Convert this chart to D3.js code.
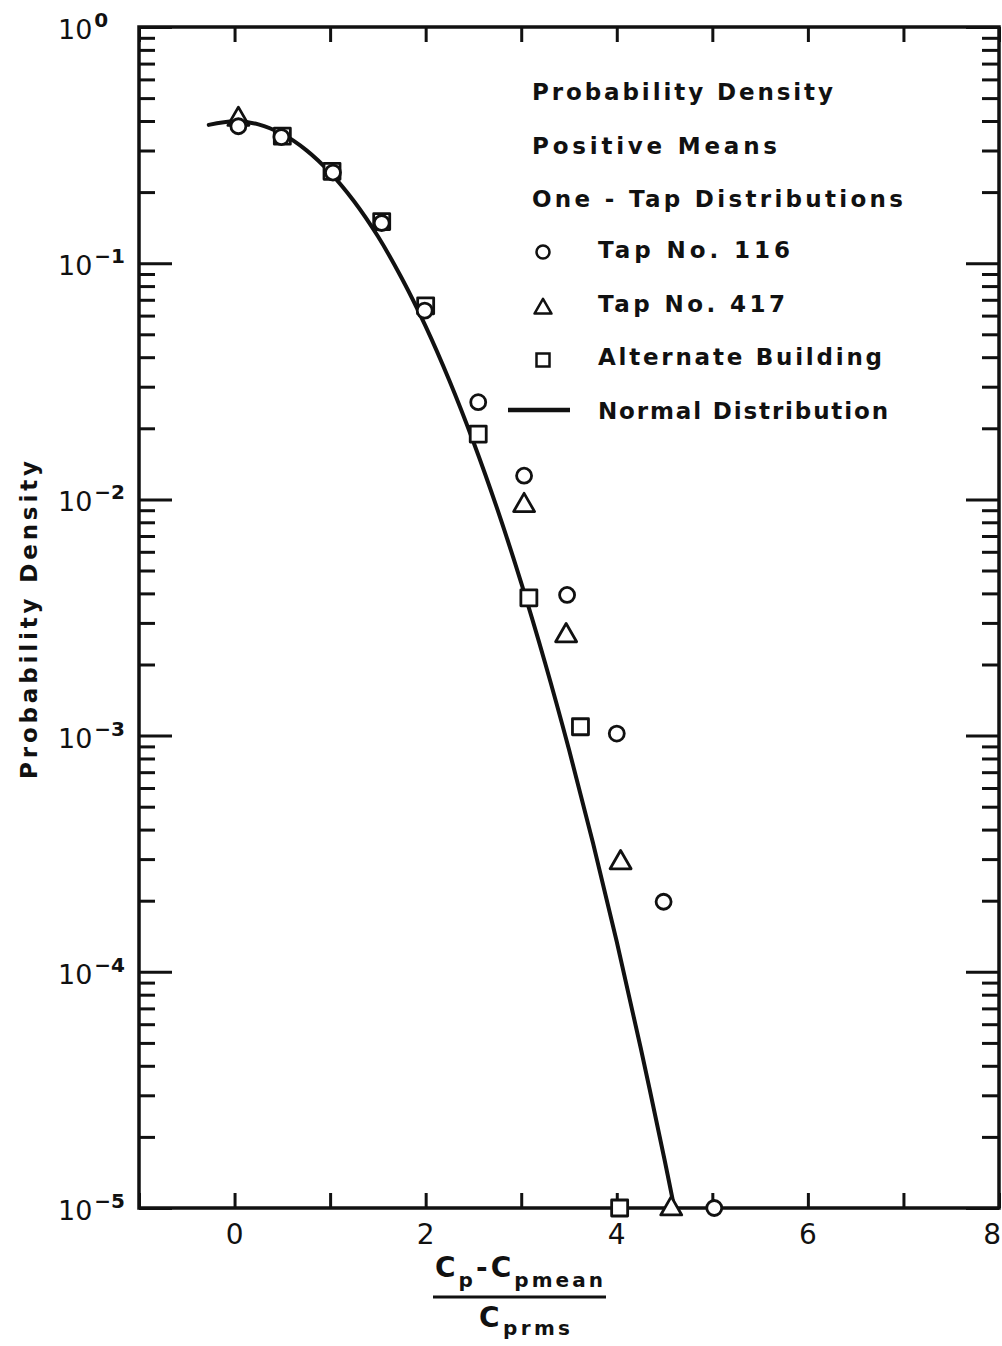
<!DOCTYPE html>
<html>
<head>
<meta charset="utf-8">
<script src="https://cdn.jsdelivr.net/npm/d3@7"></script>
<style>
  html, body { margin: 0; padding: 0; background: #fff; }
  svg { display: block; }
  text { font-family: "DejaVu Sans", "Open Sans", sans-serif; fill: #111; }
  .lbl { font-weight: bold; }
</style>
</head>
<body>
<svg id="chart" width="1002" height="1346"></svg>
<script>
// ---- data ----
const xTickValues = [-1, 0, 1, 2, 3, 4, 5, 6, 7, 8];
const xLabelValues = [0, 2, 4, 6, 8];
const xLabelText = ["0", "2", "4", "6", "8"];
const yDecadeExponents = [0, -1, -2, -3, -4, -5];
const yDecadeLabels = ["0", "-1", "-2", "-3", "-4", "-5"];

// Tap No. 116 (circles)
const tap116X = [0.04, 0.49, 1.03, 1.54, 1.99, 2.55, 3.03, 3.48, 4.00, 4.49, 5.02];
const tap116Y = [0.38, 0.342, 0.242, 0.148, 0.063, 0.0258, 0.0126, 0.00394, 0.00102, 0.000198, 0.00001];
// Tap No. 417 (triangles)
const tap417X = [0.04, 3.03, 3.47, 4.04, 4.57];
const tap417Y = [0.41, 0.0095, 0.00267, 0.000292, 0.00001];
// Alternate Building (squares)
const altX = [0.50, 1.02, 1.54, 2.00, 2.55, 3.08, 3.62, 4.03];
const altY = [0.345, 0.245, 0.150, 0.066, 0.0189, 0.00383, 0.00109, 0.00001];
// Normal distribution curve
const normX = [-0.27, 0, 0.25, 0.5, 0.75, 1, 1.25, 1.5, 1.75, 2, 2.25, 2.5, 2.75, 3, 3.25, 3.5, 3.75, 4, 4.25, 4.5, 4.6];
const normY = [0.385, 0.399, 0.387, 0.352, 0.301, 0.242, 0.183, 0.130, 0.0863, 0.0540, 0.0317, 0.0175, 0.00909,
               0.00443, 0.00203, 0.000873, 0.000353, 0.000134, 0.0000477, 0.0000160, 0.0000101];

const legendTitles = ["Probability Density", "Positive Means", "One - Tap Distributions"];
const legendItems = ["Tap No. 116", "Tap No. 417", "Alternate Building", "Normal Distribution"];

// ---- layout ----
const L = 139, R = 999, T = 27, B = 1208;
const svg = d3.select("#chart");

const x = d3.scaleLinear().domain([-1, 8]).range([L, R]);
const y = d3.scaleLog().domain([1e-5, 1]).range([B, T]);

const ink = "#111";

// minor / major log tick values
const majorY = yDecadeExponents.map(e => Math.pow(10, e));
const minorY = [];
for (let e = -5; e < 0; e++) for (let m = 2; m <= 9; m++) minorY.push(m * Math.pow(10, e));

function styleAxis(g) {
  g.select(".domain").remove();
  g.selectAll(".tick line").attr("stroke", ink).attr("stroke-width", 3);
  g.selectAll(".tick text").remove();
}

// bottom and top x ticks (pointing inward)
svg.append("g").attr("transform", `translate(0,${B})`)
  .call(d3.axisBottom(x).tickValues(xTickValues).tickSizeInner(-15).tickSizeOuter(0))
  .call(styleAxis);
svg.append("g").attr("transform", `translate(0,${T})`)
  .call(d3.axisTop(x).tickValues(xTickValues).tickSizeInner(-15).tickSizeOuter(0))
  .call(styleAxis);

// left and right y ticks
svg.append("g").attr("transform", `translate(${L},0)`)
  .call(d3.axisLeft(y).tickValues(minorY).tickSizeInner(-16).tickSizeOuter(0)).call(styleAxis);
svg.append("g").attr("transform", `translate(${L},0)`)
  .call(d3.axisLeft(y).tickValues(majorY).tickSizeInner(-33).tickSizeOuter(0)).call(styleAxis);
svg.append("g").attr("transform", `translate(${R},0)`)
  .call(d3.axisRight(y).tickValues(minorY).tickSizeInner(-17).tickSizeOuter(0)).call(styleAxis);
svg.append("g").attr("transform", `translate(${R},0)`)
  .call(d3.axisRight(y).tickValues(majorY).tickSizeInner(-33).tickSizeOuter(0)).call(styleAxis);

// frame
svg.append("rect").attr("x", L).attr("y", T).attr("width", R - L).attr("height", B - T)
  .attr("fill", "none").attr("stroke", ink).attr("stroke-width", 3.5);

// x tick labels (the last one kept inside the page edge)
svg.append("g").selectAll("text").data(xLabelValues).join("text")
  .attr("x", d => d === 8 ? 1001 : x(d)).attr("y", B + 36)
  .attr("text-anchor", d => d === 8 ? "end" : "middle").attr("font-size", 28)
  .text((d, i) => xLabelText[i]);

// y decade labels: 10 with superscript exponent
const yl = svg.append("g").selectAll("text").data(majorY).join("text")
  .attr("x", 58).attr("y", d => y(d) + 12).attr("font-size", 27);
yl.append("tspan").text("10");
yl.append("tspan").attr("dx", 2).attr("dy", -12).attr("font-size", 20).attr("font-weight", "bold")
  .text((d, i) => yDecadeLabels[i].replace("-", "\u2212"));

// y axis title
svg.append("text").attr("class", "lbl")
  .attr("transform", "translate(37,620) rotate(-90)")
  .attr("text-anchor", "middle").attr("font-size", 23)
  .attr("textLength", 318).attr("lengthAdjust", "spacing")
  .text("Probability Density");

// x axis title as a fraction
const num = svg.append("text").attr("class", "lbl").attr("x", 435).attr("y", 1277).attr("font-size", 28)
  .attr("textLength", 168).attr("lengthAdjust", "spacing");
num.append("tspan").text("C");
num.append("tspan").attr("font-size", 20).attr("dy", 10).text("p");
num.append("tspan").attr("dy", -10).text("-C");
num.append("tspan").attr("font-size", 20).attr("dy", 10).text("pmean");
svg.append("line").attr("x1", 433).attr("x2", 606).attr("y1", 1297).attr("y2", 1297)
  .attr("stroke", ink).attr("stroke-width", 3);
const den = svg.append("text").attr("class", "lbl").attr("x", 479).attr("y", 1327).attr("font-size", 28)
  .attr("textLength", 91).attr("lengthAdjust", "spacing");
den.append("tspan").text("C");
den.append("tspan").attr("font-size", 20).attr("dy", 8).text("prms");

// normal distribution curve
const curvePts = normX.map((v, i) => [v, normY[i]]);
svg.append("path").datum(curvePts)
  .attr("fill", "none").attr("stroke", ink).attr("stroke-width", 4).attr("stroke-linecap", "round")
  .attr("d", d3.line().x(d => x(d[0])).y(d => y(d[1])).curve(d3.curveCatmullRom));

// marker shapes
const sq = d3.symbol().type(d3.symbolSquare);
function triPath(s) { const h = s * 0.87; return `M0,${-h * 0.62}L${s / 2},${h * 0.38}L${-s / 2},${h * 0.38}Z`; }

function drawSeries(xs, ys, kind) {
  const pts = xs.map((v, i) => [v, ys[i]]);
  const g = svg.append("g");
  const sel = g.selectAll("path").data(pts).join("path")
    .attr("transform", d => `translate(${x(d[0])},${y(d[1])})`)
    .attr("fill", "#fff").attr("stroke", ink).attr("stroke-width", 2.8).attr("stroke-linejoin", "round");
  if (kind === "circle") sel.attr("d", d3.symbol().type(d3.symbolCircle).size(Math.PI * 7.5 * 7.5)());
  if (kind === "square") sel.attr("d", sq.size(16 * 16)());
  if (kind === "triangle") sel.attr("d", triPath(21));
}
drawSeries(altX, altY, "square");
drawSeries(tap417X, tap417Y, "triangle");
drawSeries(tap116X, tap116Y, "circle");

// legend
const lg = svg.append("g");
const titleWidths = [301, 245, 371];
legendTitles.forEach((t, i) => {
  lg.append("text").attr("class", "lbl").attr("x", 532).attr("y", 100 + i * 53.5).attr("font-size", 23)
    .attr("textLength", titleWidths[i]).attr("lengthAdjust", "spacing").text(t);
});
const itemWidths = [192, 187, 284, 290];
legendItems.forEach((t, i) => {
  lg.append("text").attr("class", "lbl").attr("x", 598).attr("y", 258 + i * 53.5).attr("font-size", 23)
    .attr("textLength", itemWidths[i]).attr("lengthAdjust", "spacing").text(t);
});
lg.append("circle").attr("cx", 543).attr("cy", 252).attr("r", 6.5)
  .attr("fill", "#fff").attr("stroke", ink).attr("stroke-width", 2.5);
lg.append("path").attr("transform", "translate(543,308)").attr("d", triPath(17))
  .attr("fill", "#fff").attr("stroke", ink).attr("stroke-width", 2.5).attr("stroke-linejoin", "round");
lg.append("path").attr("transform", "translate(543,360)").attr("d", sq.size(13 * 13)())
  .attr("fill", "#fff").attr("stroke", ink).attr("stroke-width", 2.5);
lg.append("line").attr("x1", 508).attr("x2", 570).attr("y1", 410).attr("y2", 410)
  .attr("stroke", ink).attr("stroke-width", 4.5);
</script>
</body>
</html>
